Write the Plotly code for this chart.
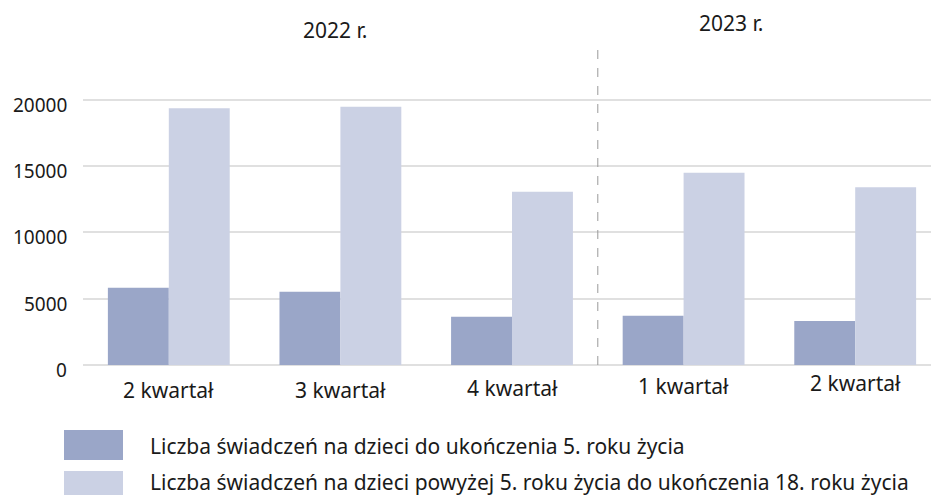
import plotly.graph_objects as go

# quarters and values
quarters = ['2 kwartał', '3 kwartał', '4 kwartał', '1 kwartał', '2 kwartał ']
under5 = [5830, 5530, 3640, 3720, 3320]
over5 = [19360, 19480, 13070, 14500, 13400]
series_names = [
    'Liczba świadczeń na dzieci do ukończenia 5. roku życia',
    'Liczba świadczeń na dzieci powyżej 5. roku życia do ukończenia 18. roku życia',
]
years = ['2022 r.', '2023 r.']
y_ticks = [0, 5000, 10000, 15000, 20000]

dark = '#9aa6c8'
light = '#cbd1e4'
font_family = 'Noto Sans, sans-serif'
text_color = '#1a1a1a'

W, H = 939, 495
L, R, B = 75, 6, 138
plot_w, plot_h = W - L - R, H - B

# the page is drawn 8px in from the corner, so pixel positions below are
# given in the reference's coordinates and converted here
OFF = 8


def px_x(v):
    return (v - OFF - L) / plot_w


def px_y(v):
    return (plot_h - (v - OFF)) / plot_h


fig = go.Figure()
fig.add_trace(go.Bar(name=series_names[0], x=quarters, y=under5,
                     marker=dict(color=dark, line=dict(width=0))))
fig.add_trace(go.Bar(name=series_names[1], x=quarters, y=over5,
                     marker=dict(color=light, line=dict(width=0))))

fig.update_layout(
    width=W, height=H,
    margin=dict(l=L, r=R, t=0, b=B, autoexpand=False),
    barmode='group',
    bargap=0.29,
    bargroupgap=0,
    showlegend=False,
    plot_bgcolor='white',
    paper_bgcolor='white',
    font=dict(family=font_family, size=20, color=text_color),
    xaxis=dict(
        showgrid=False,
        showline=False,
        ticks='',
        showticklabels=False,
        range=[-0.5, 4.5],
        automargin=False,
    ),
    yaxis=dict(
        range=[0, 26923],
        tickvals=y_ticks,
        showticklabels=False,
        showgrid=True,
        gridcolor='#e0e0e0',
        gridwidth=1.5,
        zeroline=True,
        zerolinecolor='#e0e0e0',
        zerolinewidth=1.5,
        automargin=False,
    ),
)

# y tick labels, sitting a little under their gridlines
for v in y_ticks:
    fig.add_annotation(text=str(v), xref='paper', yref='y', x=px_x(69), y=v,
                       xanchor='right', yanchor='middle', yshift=-5,
                       showarrow=False, font=dict(size=19))

# x tick labels (the originals are not on one exact row)
label_y = [390, 390, 388, 386, 383]
for i, (q, yc) in enumerate(zip(quarters, label_y)):
    fig.add_annotation(text=q.strip(), xref='x', yref='paper', x=i, y=px_y(yc),
                       xanchor='center', yanchor='middle', showarrow=False,
                       font=dict(size=21))

# dashed separator between years
fig.add_shape(type='line', xref='x', yref='y', x0=2.5, x1=2.5, y0=0, y1=24300,
              line=dict(color='#999999', width=1, dash='dash'))

# year labels
fig.add_annotation(text=years[0], xref='paper', yref='paper', x=px_x(335), y=px_y(30),
                   xanchor='center', yanchor='middle', showarrow=False,
                   font=dict(size=21))
fig.add_annotation(text=years[1], xref='paper', yref='paper', x=px_x(731), y=px_y(23),
                   xanchor='center', yanchor='middle', showarrow=False,
                   font=dict(size=21))

# legend drawn by hand (large swatches)
legend_rows = [(dark, 430, 460, 446), (light, 471, 501, 482)]
for (color, top, bottom, text_y), name in zip(legend_rows, series_names):
    fig.add_shape(type='rect', xref='paper', yref='paper', layer='above',
                  x0=px_x(64), x1=px_x(123), y0=px_y(bottom), y1=px_y(top),
                  fillcolor=color, line=dict(width=0))
    fig.add_annotation(text=name, xref='paper', yref='paper',
                       x=px_x(148), y=px_y(text_y),
                       xanchor='left', yanchor='middle', showarrow=False,
                       font=dict(size=21))

fig.write_html('out.html')
